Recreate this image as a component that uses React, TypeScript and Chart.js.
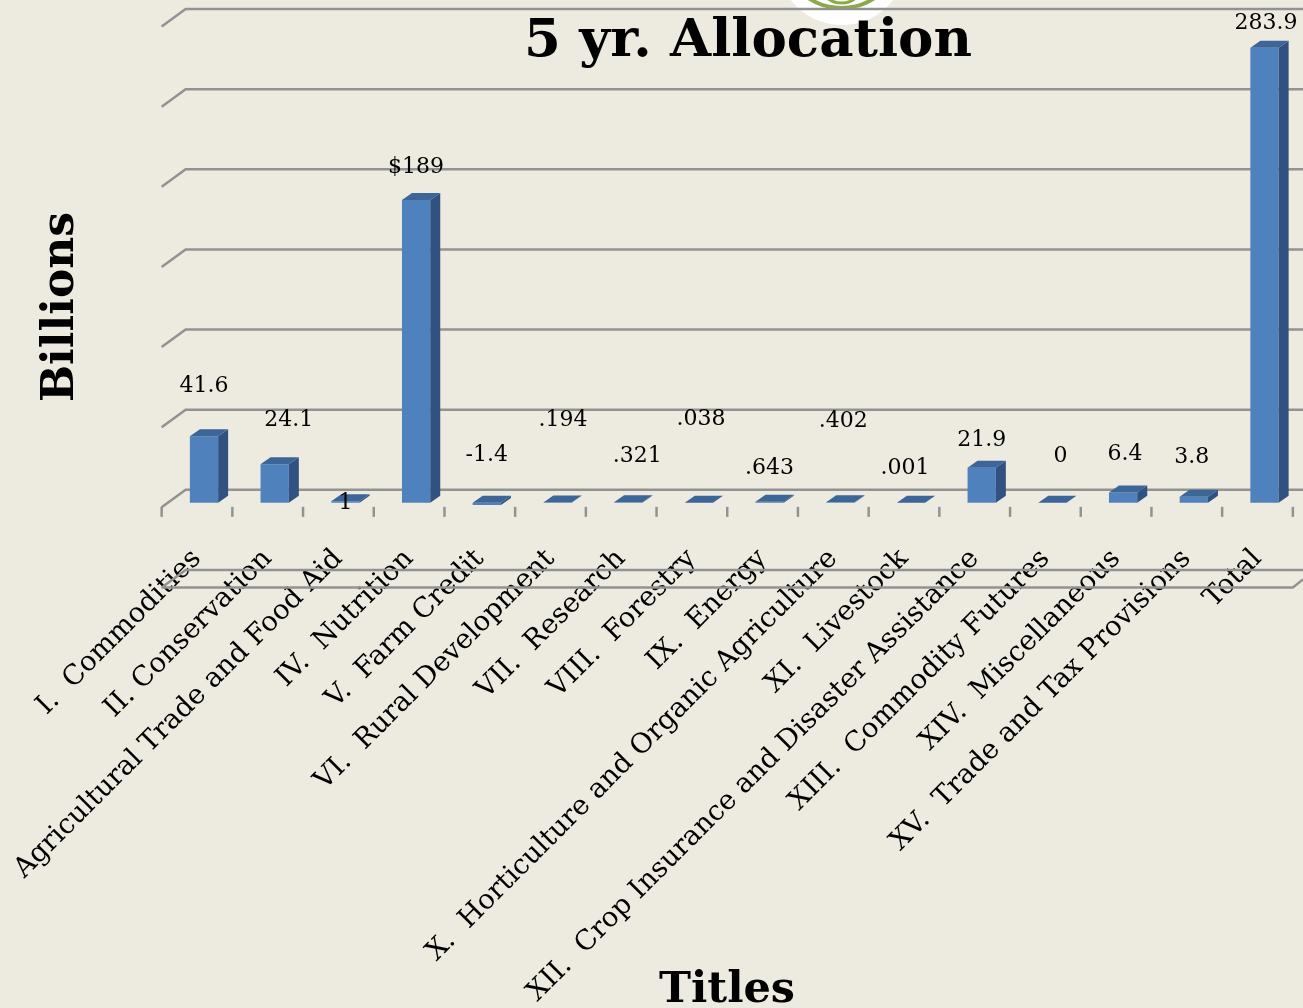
import React, { useEffect, useRef } from "react";
import { Chart, registerables } from "chart.js";

Chart.register(...registerables);

const categories = [
  "I.  Commodities",
  "II. Conservation",
  "Agricultural Trade and Food Aid",
  "IV.  Nutrition",
  "V.  Farm Credit",
  "VI.  Rural Development",
  "VII.  Research",
  "VIII.  Forestry",
  "IX.  Energy",
  "X.  Horticulture and Organic Agriculture",
  "XI.  Livestock",
  "XII.  Crop Insurance and Disaster Assistance",
  "XIII.  Commodity Futures",
  "XIV.  Miscellaneous",
  "XV.  Trade and Tax Provisions",
  "Total",
];
const allocation = [41.6, 24.1, 1, 189, -1.4, 0.194, 0.321, 0.038, 0.643, 0.402, 0.001, 21.9, 0, 6.4, 3.8, 283.9];
const valueLabels = ["41.6", "24.1", "1", "$189", "-1.4", ".194", ".321", ".038", ".643", ".402", ".001", "21.9", "0", "6.4", "3.8", "283.9"];
// label offsets from the top-centre of each bar
const labelDx = [0, 14, 0, 0, 0, 5.5, 9, 2, 0, 3, -6, 0, 8, 2, -2, 1.5];
const labelDy = [-50, -44, 2, -33, -48, -82, -46, -84, -34, -81, -35, -27, -47, -38, -39, -25];

const chartTitle = "5 yr. Allocation";
const xTitle = "Titles";
const yTitle = "Billions";

const FONT = '"DejaVu Serif"';
const BG = "#EDEBE0";
const GRID = "#929292";
const DX = 10;
const DY = 7;

const threeD = {
  id: "threeD",
  beforeDatasetsDraw(chart: any) {
    const { ctx } = chart;
    const y = chart.scales.y;
    const x = chart.scales.x;
    // corner logo
    ctx.save();
    ctx.fillStyle = "#FFFFFF";
    ctx.beginPath();
    ctx.arc(842, -40, 65, 0, Math.PI * 2);
    ctx.fill();
    ctx.strokeStyle = "#8CA94A";
    ctx.lineWidth = 4;
    ctx.beginPath();
    ctx.arc(841.5, -51, 59, 0, Math.PI * 2);
    ctx.stroke();
    ctx.lineWidth = 3;
    ctx.beginPath();
    ctx.arc(841.5, -20, 23, 0, Math.PI * 2);
    ctx.stroke();
    ctx.restore();

    const step = x.getPixelForValue(1) - x.getPixelForValue(0);
    const left = x.getPixelForValue(0) - step / 2 - 7;
    const right = left + step * categories.length;
    ctx.save();
    ctx.strokeStyle = GRID;
    ctx.lineWidth = 2.5;
    y.ticks.forEach((t: any) => {
      const py = y.getPixelForValue(t.value);
      const back = py - 13;
      const front = py + 4.5;
      ctx.beginPath();
      ctx.moveTo(left, front);
      ctx.lineTo(left + 24, back);
      ctx.lineTo(chart.width, back);
      ctx.stroke();
    });
    const minY = y.getPixelForValue(y.min) + 4.5;
    ctx.beginPath();
    ctx.moveTo(left, minY);
    ctx.lineTo(right, minY);
    ctx.lineTo(chart.width, minY - 8);
    ctx.stroke();
    const zeroY = y.getPixelForValue(0);
    for (let i = 0; i <= categories.length; i++) {
      const tx = left + i * step;
      ctx.beginPath();
      ctx.moveTo(tx, zeroY + 4);
      ctx.lineTo(tx, zeroY + 14);
      ctx.stroke();
    }
    ctx.restore();
  },
  afterDatasetsDraw(chart: any) {
    const { ctx } = chart;
    const bars = chart.getDatasetMeta(0).data;
    ctx.save();
    bars.forEach((bar: any) => {
      const top = Math.min(bar.y, bar.base);
      const bottom = Math.max(bar.y, bar.base);
      const l = bar.x - bar.width / 2;
      const r = bar.x + bar.width / 2;
      ctx.fillStyle = "#315281";
      ctx.beginPath();
      ctx.moveTo(r, top);
      ctx.lineTo(r + DX, top - DY);
      ctx.lineTo(r + DX, bottom - DY);
      ctx.lineTo(r, bottom);
      ctx.closePath();
      ctx.fill();
      ctx.fillStyle = "#3C6598";
      ctx.beginPath();
      ctx.moveTo(l, top);
      ctx.lineTo(l + DX, top - DY);
      ctx.lineTo(r + DX, top - DY);
      ctx.lineTo(r, top);
      ctx.closePath();
      ctx.fill();
    });
    ctx.fillStyle = "#000000";
    ctx.textAlign = "center";
    ctx.textBaseline = "middle";
    ctx.font = `22px ${FONT}`;
    bars.forEach((bar: any, i: number) => {
      const top = Math.min(bar.y, bar.base);
      ctx.fillText(valueLabels[i], bar.x + labelDx[i], top + labelDy[i]);
    });
    ctx.font = `bold 53px ${FONT}`;
    ctx.fillText(chartTitle, 748, 42);
    ctx.font = `bold 43px ${FONT}`;
    ctx.fillText(xTitle, 727, 991);
    ctx.font = `bold 44px ${FONT}`;
    ctx.translate(62, 307);
    ctx.rotate(-Math.PI / 2);
    ctx.fillText(yTitle, 0, 0);
    ctx.restore();
  },
};

export default function App() {
  const ref = useRef<HTMLCanvasElement>(null);
  useEffect(() => {
    document.body.style.margin = "0";
    document.body.style.background = BG;
    const chart = new Chart(ref.current!, {
      type: "bar",
      data: {
        labels: categories,
        datasets: [
          {
            data: allocation,
            backgroundColor: "#4F81BD",
            barPercentage: 0.8,
            categoryPercentage: 0.5,
          },
        ],
      },
      options: {
        responsive: false,
        animation: false,
        devicePixelRatio: 1,
        layout: { padding: { left: 168.65, right: 3.15, top: 22, bottom: 425 } },
        plugins: { legend: { display: false }, tooltip: { enabled: false } },
        scales: {
          x: {
            type: "category",
            position: { y: 0 } as any,
            afterFit(scale: any) {
              scale.height = 0;
              scale.paddingLeft = 0;
              scale.paddingRight = 0;
            },
            grid: { display: false },
            border: { display: false },
            ticks: {
              autoSkip: false,
              minRotation: 45,
              maxRotation: 45,
              padding: 32,
              labelOffset: -7,
              color: "#000000",
              font: { family: FONT, size: 27.5 },
            },
          },
          y: {
            min: -50,
            max: 300,
            display: true,
            afterFit(scale: any) {
              scale.width = 0;
            },
            grid: { display: false },
            border: { display: false },
            ticks: { stepSize: 50, display: false },
          },
        },
      },
      plugins: [threeD],
    });
    return () => chart.destroy();
  }, []);
  return (
    <div style={{ width: 1303, height: 1008, background: BG, overflow: "hidden" }}>
      <canvas ref={ref} width={1303} height={1008} style={{ display: "block" }} />
    </div>
  );
}
